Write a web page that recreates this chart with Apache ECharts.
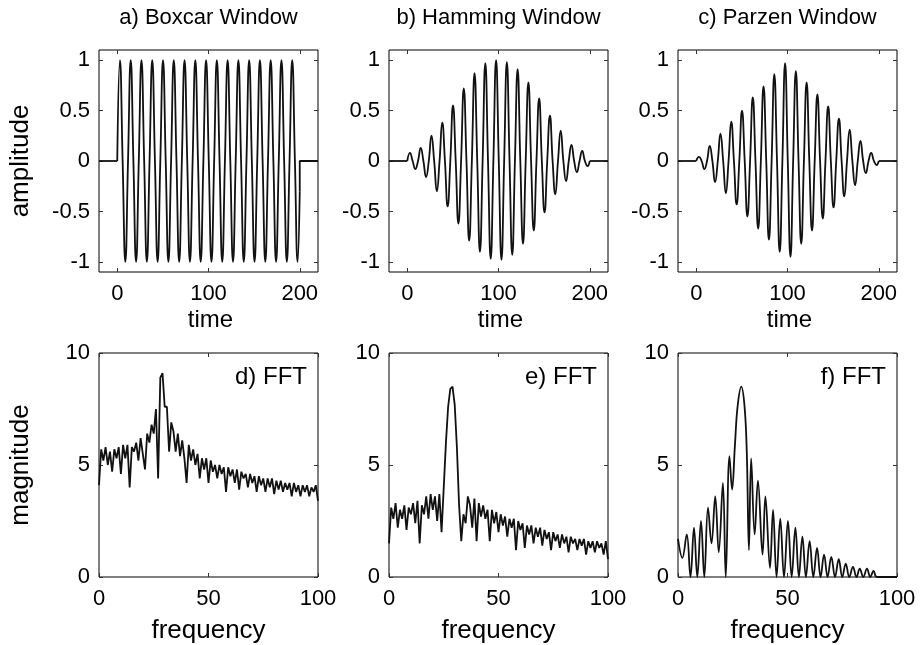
<!DOCTYPE html>
<html><head><meta charset="utf-8">
<script src="https://cdn.jsdelivr.net/npm/echarts@6/dist/echarts.min.js"></script>
<style>html,body{margin:0;padding:0;background:#fff}#c{width:920px;height:645px}</style>
</head><body><div id="c"></div>
<script>
// ---------- text ----------
const panelTitles = ['a) Boxcar Window', 'b) Hamming Window', 'c) Parzen Window'];
const fftLabels = ['d) FFT', 'e) FFT', 'f) FFT'];
const timeName = 'time', freqName = 'frequency', ampName = 'amplitude', magName = 'magnitude';

// ---------- tick labels ----------
const timeTicks = [0, 100, 200];
const ampTicks = [-1, -0.5, 0, 0.5, 1];
const freqTicks = [0, 50, 100];
const magTicks = [0, 5, 10];

// ---------- time signals: extremes and zero crossings ----------
const timePts = [0,
  2.95, 5.9, 8.85, 11.8,   14.75, 17.7, 20.65, 23.6,   26.55, 29.5, 32.45, 35.4,
  38.35, 41.3, 44.25, 47.2, 50.15, 53.1, 56.05, 59.0,   61.95, 64.9, 67.85, 70.8,
  73.75, 76.7, 79.65, 82.6, 85.55, 88.5, 91.45, 94.4,   97.35, 100.3, 103.25, 106.2,
  109.15, 112.1, 115.05, 118.0, 120.95, 123.9, 126.85, 129.8, 132.75, 135.7, 138.65, 141.6,
  144.55, 147.5, 150.45, 153.4, 156.35, 159.3, 162.25, 165.2, 168.15, 171.1, 174.05, 177.0,
  179.95, 182.9, 185.85, 188.8, 191.75, 194.7, 197.65, 200.0];
const boxcarAmp = [0,
  1,0,-1,0, 1,0,-1,0, 1,0,-1,0, 1,0,-1,0, 1,0,-1,0, 1,0,-1,0,
  1,0,-1,0, 1,0,-1,0, 1,0,-1,0, 1,0,-1,0, 1,0,-1,0, 1,0,-1,0,
  1,0,-1,0, 1,0,-1,0, 1,0,-1,0, 1,0,-1,0, 1,0,-1,-0.3];
const hammingAmp = [0,
  0.08,0,-0.08,0, 0.13,0,-0.16,0, 0.25,0,-0.30,0, 0.38,0,-0.45,0,
  0.55,0,-0.62,0, 0.72,0,-0.79,0, 0.87,0,-0.90,0, 0.97,0,-0.97,0,
  1.0,0,-0.98,0, 0.98,0,-0.93,0, 0.91,0,-0.82,0, 0.78,0,-0.69,0,
  0.62,0,-0.51,0, 0.45,0,-0.33,0, 0.30,0,-0.20,0, 0.16,0,-0.11,0,
  0.10,0,-0.05,0];
const parzenAmp = [0,
  0.04,0,-0.08,0, 0.15,0,-0.21,0, 0.27,0,-0.32,0, 0.39,0,-0.43,0,
  0.50,0,-0.55,0, 0.63,0,-0.67,0, 0.74,0,-0.78,0, 0.86,0,-0.90,0,
  0.97,0,-0.95,0, 0.89,0,-0.82,0, 0.78,0,-0.69,0, 0.66,0,-0.57,0,
  0.54,0,-0.46,0, 0.42,0,-0.35,0, 0.31,0,-0.24,0, 0.20,0,-0.12,0,
  0.08,0,-0.04,0];
// flat (zero) stretches outside the window
const leadTime = [-20, 0], leadAmp = [0, 0];
const boxTailTime = [200, 200, 220], boxTailAmp = [-0.3, 0, 0];
const tailTime = [200, 220], tailAmp = [0, 0];

// ---------- spectra ----------
const freqGrid = [0,1,2,3,4,5,6,7,8,9,10,11,12,13,14,15,16,17,18,19,20,21,22,23,24,25,26,27,28,29,30,
  31,32,33,34,35,36,37,38,39,40,41,42,43,44,45,46,47,48,49,50,51,52,53,54,55,56,57,58,59,60,
  61,62,63,64,65,66,67,68,69,70,71,72,73,74,75,76,77,78,79,80,81,82,83,84,85,86,87,88,89,90,
  91,92,93,94,95,96,97,98,99,100];
const boxcarFFT = [4.1,5.7,5.2,5.8,5.0,5.6,4.7,5.7,5.3,5.8,
  4.6,5.9,5.3,5.9,4.0,5.8,5.6,6.0,5.2,6.2,
  5.5,4.8,6.4,6.0,6.8,6.4,7.5,4.4,8.9,9.1,
  7.6,7.6,5.6,6.9,6.5,5.6,6.4,5.4,6.1,5.3,
  4.2,5.9,5.2,5.7,5.0,5.5,4.4,5.3,4.8,5.3,
  4.2,5.2,4.7,5.0,4.4,5.0,4.6,4.9,3.8,4.9,
  4.5,4.8,4.2,4.8,3.9,4.7,4.4,4.6,4.0,4.6,
  4.2,4.5,3.8,4.5,4.1,4.4,3.8,4.4,4.0,4.4,
  3.7,4.3,3.9,4.3,3.8,4.2,3.9,4.2,3.6,4.2,
  3.8,4.1,3.6,4.1,3.8,4.1,3.6,4.0,3.8,4.1,
  3.4];
const hammingFFT = [1.5,3.1,2.6,3.3,2.2,3.0,2.6,3.2,2.1,3.1,
  2.8,3.3,2.4,3.4,1.5,3.2,2.8,3.6,2.6,3.7,
  3.0,3.6,2.5,3.7,2.0,4.0,6.0,7.6,8.4,8.5,
  7.7,5.8,3.2,1.6,2.8,2.4,3.6,3.2,2.2,3.5,
  1.6,3.3,2.7,3.2,2.6,3.0,1.6,3.0,2.4,2.9,
  2.0,2.8,2.3,2.7,1.8,2.6,2.2,2.6,1.2,2.5,
  2.1,2.4,1.3,2.3,1.9,2.3,1.5,2.2,1.8,2.2,
  1.4,2.1,1.7,2.0,1.2,2.0,1.6,1.9,1.3,1.9,
  1.5,1.8,1.1,1.8,1.5,1.7,1.2,1.7,1.4,1.7,
  1.0,1.6,1.3,1.6,1.1,1.6,1.3,1.5,1.0,1.6,
  0.8];
// Parzen spectrum: lobe peaks and minima
const parzenFreq = [0, 2, 4.0, 5.7, 7.3, 8.8, 10.5, 12.0, 13.7, 15.3, 17.0, 18.6, 20.5, 21.8, 23.5, 24.7,
  26.0, 27.2, 28.9, 30.4, 31.4, 32.4, 33.4, 35.0, 36.5, 38.6, 39.9, 42.0, 43.4, 45.0,
  46.7, 48.4, 50.2, 51.9, 53.6, 55.2, 56.8, 58.4, 60.1, 61.8, 63.5, 65.1, 66.7, 68.3,
  70.0, 71.7, 73.4, 75.0, 76.6, 78.2, 79.9, 81.5, 83.0, 84.6, 86.3, 87.8, 89.3, 90.8, 100];
const parzenFFT = [1.7, 0.85, 1.9, 0, 2.2, 0, 2.5, 0, 3.1, 1.5, 3.6, 1.1, 4.2, 0, 5.4, 3.9,
  5.9, 7.6, 8.5, 7.6, 5.6, 1.2, 5.3, 1.9, 4.3, 1.0, 3.6, 0.4, 3.0, 0,
  2.6, 0, 2.5, 0, 2.2, 0, 1.8, 0, 1.6, 0, 1.3, 0, 1.0, 0,
  0.9, 0, 0.8, 0, 0.6, 0, 0.45, 0, 0.37, 0, 0.37, 0, 0.27, 0, 0];

// ---------- layout ----------
const FONT = 'Liberation Sans, Arial, Helvetica, sans-serif';
const cols = [99, 389, 678];
const W = 219;
const rows = [{ top: 50, h: 222 }, { top: 353, h: 224 }];

const pairs = (xs, ys) => xs.map((x, i) => [x, ys[i]]);

const grids = [], xAxes = [], yAxes = [], series = [];
const lineStyle = { color: '#111', width: 1.8 };

function addPanel(r, c, xr, yr, xt, yt) {
  const g = grids.length;
  grids.push({ left: cols[c], top: rows[r].top, width: W, height: rows[r].h,
    show: true, borderColor: '#000', borderWidth: 1, backgroundColor: 'transparent' });
  const tick = (vals) => ({ show: true, inside: true, length: 4, customValues: vals,
    lineStyle: { color: '#333', width: 1 } });
  const lbl = (vals, m) => ({ show: true, customValues: vals, margin: m, fontSize: 22,
    color: '#000', fontFamily: FONT });
  const line = { show: false, onZero: false };
  xAxes.push({ gridIndex: g, type: 'value', position: 'bottom', min: xr[0], max: xr[1],
    axisLine: line, splitLine: { show: false }, axisTick: tick(xt), axisLabel: lbl(xt, 11) });
  xAxes.push({ gridIndex: g, type: 'value', position: 'top', min: xr[0], max: xr[1],
    axisLine: line, splitLine: { show: false }, axisTick: tick(xt), axisLabel: { show: false } });
  yAxes.push({ gridIndex: g, type: 'value', position: 'left', min: yr[0], max: yr[1],
    axisLine: line, splitLine: { show: false }, axisTick: tick(yt), axisLabel: lbl(yt, 9) });
  yAxes.push({ gridIndex: g, type: 'value', position: 'right', min: yr[0], max: yr[1],
    axisLine: line, splitLine: { show: false }, axisTick: tick(yt), axisLabel: { show: false } });
  return g;
}

function addLine(g, data, smooth) {
  series.push({ type: 'line', xAxisIndex: 2 * g, yAxisIndex: 2 * g, data: data,
    smooth: smooth, showSymbol: false, symbol: 'none', lineStyle: lineStyle, silent: true, z: 3 });
}

const topSignals = [
  [boxcarAmp, boxTailTime, boxTailAmp],
  [hammingAmp, tailTime, tailAmp],
  [parzenAmp, tailTime, tailAmp]
];
topSignals.forEach((s, c) => {
  const g = addPanel(0, c, [-20, 220], [-1.1, 1.1], timeTicks, ampTicks);
  addLine(g, pairs(leadTime, leadAmp), false);
  addLine(g, pairs(timePts, s[0]), 0.5);
  addLine(g, pairs(s[1], s[2]), false);
});
const spectra = [
  [pairs(freqGrid, boxcarFFT), false],
  [pairs(freqGrid, hammingFFT), false],
  [pairs(parzenFreq, parzenFFT), 0.4]
];
spectra.forEach((s, c) => {
  const g = addPanel(1, c, [0, 100], [0, 10], freqTicks, magTicks);
  addLine(g, s[0], s[1]);
});

// ---------- free text ----------
const graphic = [];
const txt = (x, y, t, opt) => graphic.push(Object.assign({ type: 'text', x: x, y: y, silent: true,
  style: Object.assign({ text: t, fontSize: 22, fill: '#000', fontFamily: FONT,
    align: 'center', verticalAlign: 'middle' }, (opt && opt.style) || {}) }, (opt && opt.el) || {}));
cols.forEach((l, c) => {
  const cx = l + W / 2;
  txt(cx, 18, panelTitles[c]);
  txt(cx + 2, 320, timeName, { style: { fontSize: 24 } });
  txt(cx, 631, freqName, { style: { fontSize: 26 } });
  txt(l + W - 11, 377, fftLabels[c], { style: { align: 'right', fontSize: 24 } });
});
txt(21, 161, ampName, { el: { rotation: Math.PI / 2 }, style: { fontSize: 26 } });
txt(21, 465, magName, { el: { rotation: Math.PI / 2 }, style: { fontSize: 26 } });

const chart = echarts.init(document.getElementById('c'), null, { renderer: 'canvas' });
chart.setOption({
  backgroundColor: '#fff',
  animation: false,
  grid: grids, xAxis: xAxes, yAxis: yAxes, series: series, graphic: graphic
});
</script></body></html>
